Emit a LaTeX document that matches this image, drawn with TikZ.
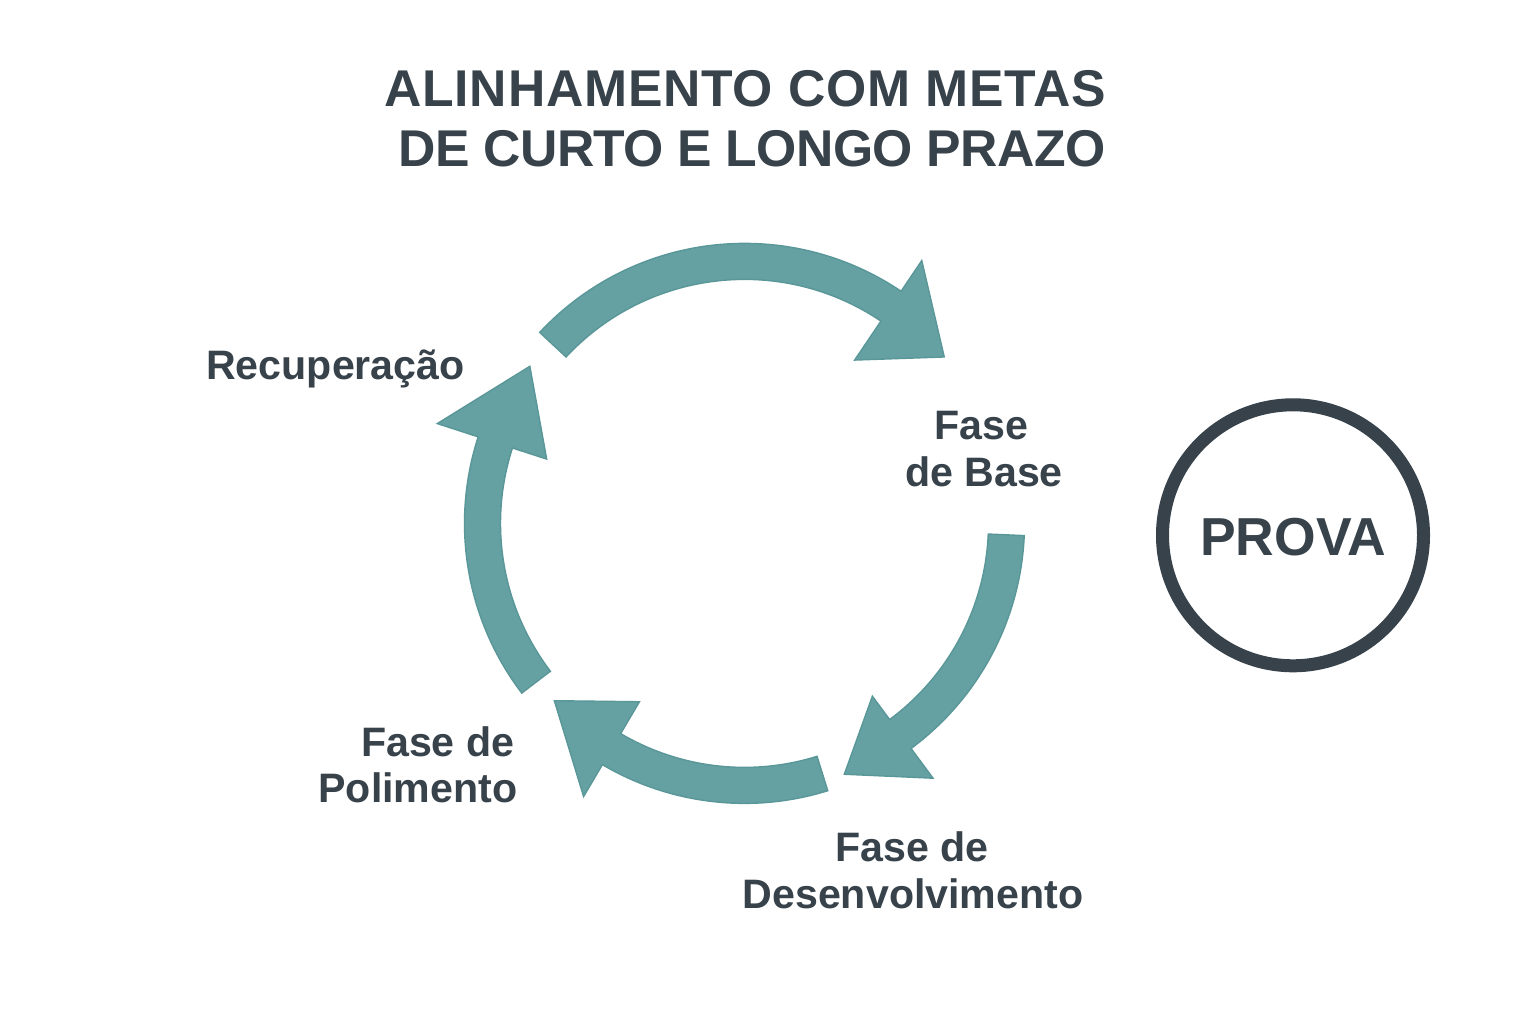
\documentclass[tikz,border=0pt]{standalone}
\usepackage{fontspec}
\setmainfont{Liberation Sans}
\newfontfamily\titlefont{Liberation Sans}[LetterSpace=1.5]
\newfontfamily\titlefontb{Liberation Sans}[LetterSpace=-1.2]
\usetikzlibrary{calc}
\definecolor{ink}{HTML}{37424A}
\definecolor{tealarrow}{HTML}{65A0A2}
\definecolor{tealedge}{HTML}{5A9799}
\tikzset{
  arrowfill/.style={fill=tealarrow, draw=tealedge, line width=0.4pt, line join=miter},
  label/.style={inner sep=0pt, text=ink, font=\fontsize{11.7pt}{14pt}\selectfont\bfseries},
  titletext/.style={inner sep=0pt, text=ink, font=\titlefont\fontsize{14.7pt}{17pt}\selectfont\bfseries},
  titletextb/.style={inner sep=0pt, text=ink, font=\titlefontb\fontsize{14.7pt}{17pt}\selectfont\bfseries},
  provatext/.style={inner sep=0pt, text=ink, font=\fontsize{15.2pt}{18pt}\selectfont\bfseries},
  ring/.style={draw=ink, line width=3.7pt}
}
% #1 start angle, #2 head base angle, #3 tip angle, #4 head inner r, #5 head outer r, #6 tip r
\newcommand\cyclearrow[6]{%
  \filldraw[arrowfill] ($(C)+(#1:280)$) arc[start angle=#1, end angle=#2, radius=280]
    -- ($(C)+(#2:#5)$) -- ($(C)+(#3:#6)$) -- ($(C)+(#2:#4)$)
    -- ($(C)+(#2:244)$) arc[start angle=#2, end angle=#1, radius=244] -- cycle;}
\begin{document}
\begin{tikzpicture}[x=0.01cm,y=0.01cm]
\useasboundingbox (0,0) rectangle (1536,1024);
\fill[white] (0,0) rectangle (1536,1024);

% title
\node[titletext, anchor=base] (title1) at (745,917.5) {ALINHAMENTO COM METAS};
\node[titletextb, anchor=base] (title2) at (752,857) {DE CURTO E LONGO PRAZO};

% cycle arrows
\coordinate (C) at (744.5,500.6);
\cyclearrow{137}{56}{39.8}{197}{317}{260}
\cyclearrow{-2.5}{-53.5}{-68.3}{215}{317}{270}
\cyclearrow{-72.7}{-120.5}{-137}{207}{317}{260}
\cyclearrow{217.3}{162}{143.8}{208}{323}{266}

% labels
\node[label, anchor=base] (rec) at (335.5,644) {Recuperação};
\node[label, anchor=base] (base1) at (981,584.7) {Fase};
\node[label, anchor=base] (base2) at (984,537.3) {de Base};
\node[label, anchor=base] (dev1) at (912,162.3) {Fase de};
\node[label, anchor=base] (dev2) at (913,115.7) {Desenvolvimento};
\node[label, anchor=base east] (pol1) at (515,267.3) {Fase de};
\node[label, anchor=base east] (pol2) at (518,221.7) {Polimento};

% PROVA
\draw[ring] (1293,488.7) circle[radius=130.5];
\node[provatext, anchor=base] (prova) at (1293.3,468.3) {PROVA};
\end{tikzpicture}
\end{document}
